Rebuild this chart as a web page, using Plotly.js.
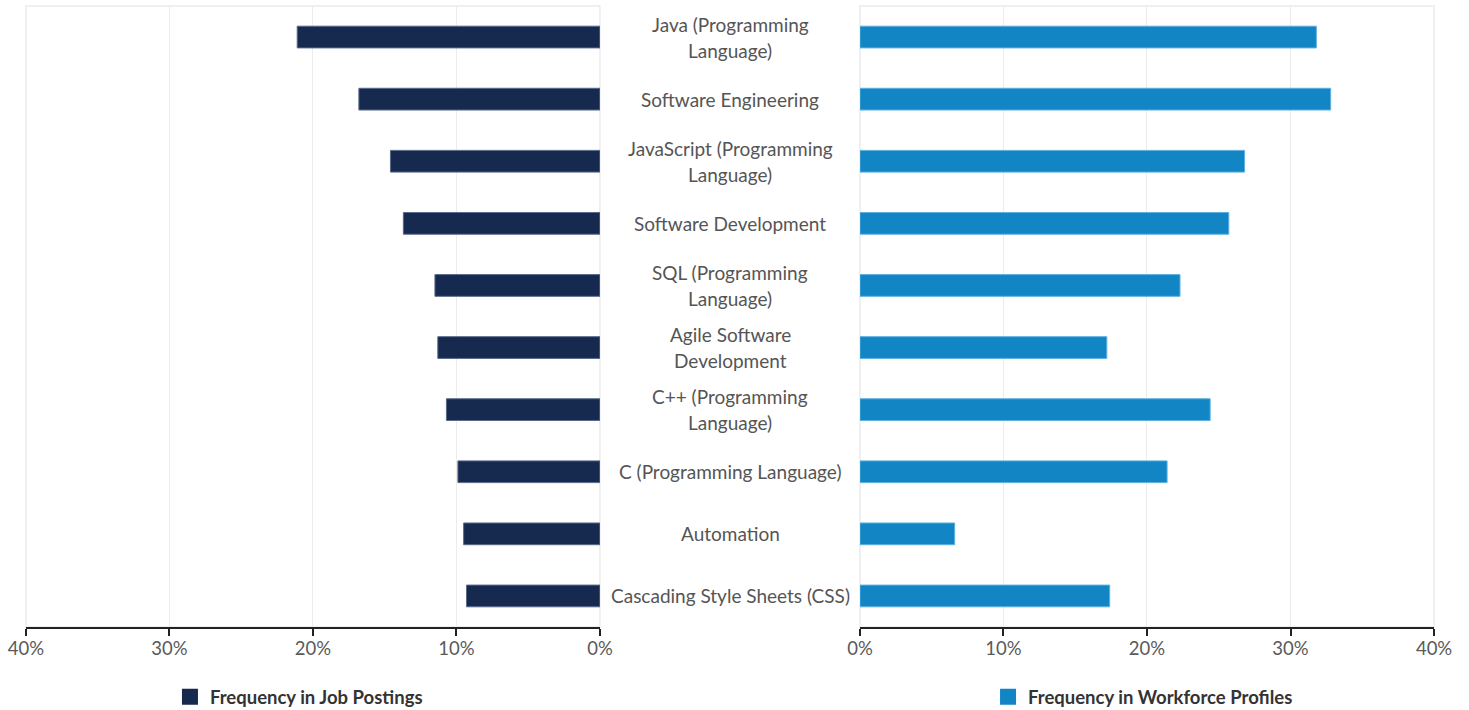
<!DOCTYPE html>
<html>
<head>
<meta charset="utf-8">
<script src="https://cdn.plot.ly/plotly-3.0.1.min.js"></script>
<style>
  html, body { margin: 0; padding: 0; background: #fff; }
  #chart { width: 1469px; height: 710px; }
</style>
</head>
<body>
<div id="chart"></div>
<script>
// skill names, top to bottom (<br> marks where the label wraps)
const skills = [
  'Java (Programming<br>Language)',
  'Software Engineering',
  'JavaScript (Programming<br>Language)',
  'Software Development',
  'SQL (Programming<br>Language)',
  'Agile Software<br>Development',
  'C++ (Programming<br>Language)',
  'C (Programming Language)',
  'Automation',
  'Cascading Style Sheets (CSS)'
];
// share of job postings / workforce profiles mentioning the skill
const job_postings = [0.211, 0.168, 0.146, 0.137, 0.115, 0.113, 0.107, 0.099, 0.095, 0.093];
const workforce_profiles = [0.318, 0.328, 0.268, 0.257, 0.223, 0.172, 0.244, 0.214, 0.066, 0.174];
const x_ticks = [0, 0.1, 0.2, 0.3, 0.4];

const font_family = 'Lato, "Open Sans", sans-serif';
const label_color = '#555555';
const job_color = '#16294f';
const profile_color = '#1285c4';

let bar = (vals, name, xa, color, edge) => ({
  type: 'bar',
  orientation: 'h',
  y: skills,
  x: vals,
  name: name,
  xaxis: xa, yaxis: 'y',
  width: 0.35,
  showlegend: false,
  marker: {color: color, line: {color: edge, width: 1}},
  hoverinfo: 'x+y'
});

// legend entries: square swatches, bigger than plotly's bar icon
let swatch = (name, color, lg) => ({
  type: 'scatter',
  mode: 'markers',
  x: [null], y: [null],
  xaxis: 'x', yaxis: 'y',
  name: name,
  legend: lg,
  marker: {symbol: 'square', size: 16, color: color},
  hoverinfo: 'skip'
});

let traces = [
  bar(job_postings, 'Frequency in Job Postings', 'x', job_color, '#5a6a8c'),
  bar(workforce_profiles, 'Frequency in Workforce Profiles', 'x2', profile_color, '#5fb0e0'),
  swatch('Frequency in Job Postings', job_color, 'legend'),
  swatch('Frequency in Workforce Profiles', profile_color, 'legend2')
];

// wrapped labels: one annotation per line so the line gap matches
let annotations = [];
skills.forEach((s) => {
  let lines = s.split('<br>');
  lines.forEach((line, i) => {
    annotations.push({
      xref: 'paper', yref: 'y',
      x: 0.497, y: s,
      text: line,
      showarrow: false,
      xanchor: 'center', yanchor: 'middle',
      yshift: ((lines.length - 1) / 2 - i) * 26,
      font: {family: font_family, size: 19, color: label_color}
    });
  });
});

let x_axis = {
  range: [0, 0.4],
  tickvals: x_ticks,
  tickformat: '.0%',
  showgrid: true,
  gridcolor: '#ececec',
  gridwidth: 1,
  zeroline: false,
  showline: true,
  linecolor: '#222222',
  linewidth: 1.5,
  ticks: 'outside',
  ticklen: 7,
  tickcolor: '#222222',
  tickwidth: 1.5,
  ticklabelstandoff: -3,
  tickfont: {family: font_family, size: 18.5, color: '#5a5a5a'},
  fixedrange: true
};

let frame = (ax) => ({
  type: 'rect', xref: ax + ' domain', yref: 'y domain',
  x0: 0, x1: 1, y0: 0, y1: 1,
  line: {color: '#ececec', width: 1.5},
  layer: 'below'
});

let legend_font = {family: font_family, size: 18.5, color: '#333333', weight: 'bold'};

let layout = {
  width: 1469,
  height: 710,
  margin: {l: 0, r: 0, t: 6, b: 83},
  paper_bgcolor: '#ffffff',
  plot_bgcolor: '#ffffff',
  font: {family: font_family, color: label_color},
  xaxis: Object.assign({}, x_axis, {domain: [0.0177, 0.4084], range: [0.4, 0], anchor: 'y'}),
  xaxis2: Object.assign({}, x_axis, {domain: [0.5854, 0.9762], anchor: 'y'}),
  yaxis: {
    autorange: 'reversed',
    showticklabels: false,
    showgrid: false,
    zeroline: false,
    showline: false,
    ticks: '',
    fixedrange: true
  },
  shapes: [frame('x'), frame('x2')],
  annotations: annotations,
  // container refs so the legends don't push the plot margins
  legend: {
    xref: 'container', yref: 'container',
    x: 0.1157, y: 0.018, xanchor: 'left', yanchor: 'middle',
    orientation: 'h',
    font: legend_font
  },
  legend2: {
    xref: 'container', yref: 'container',
    x: 0.6726, y: 0.018, xanchor: 'left', yanchor: 'middle',
    orientation: 'h',
    font: legend_font
  },
  showlegend: true
};

Plotly.newPlot('chart', traces, layout, {displayModeBar: false, responsive: false});
</script>
</body>
</html>
